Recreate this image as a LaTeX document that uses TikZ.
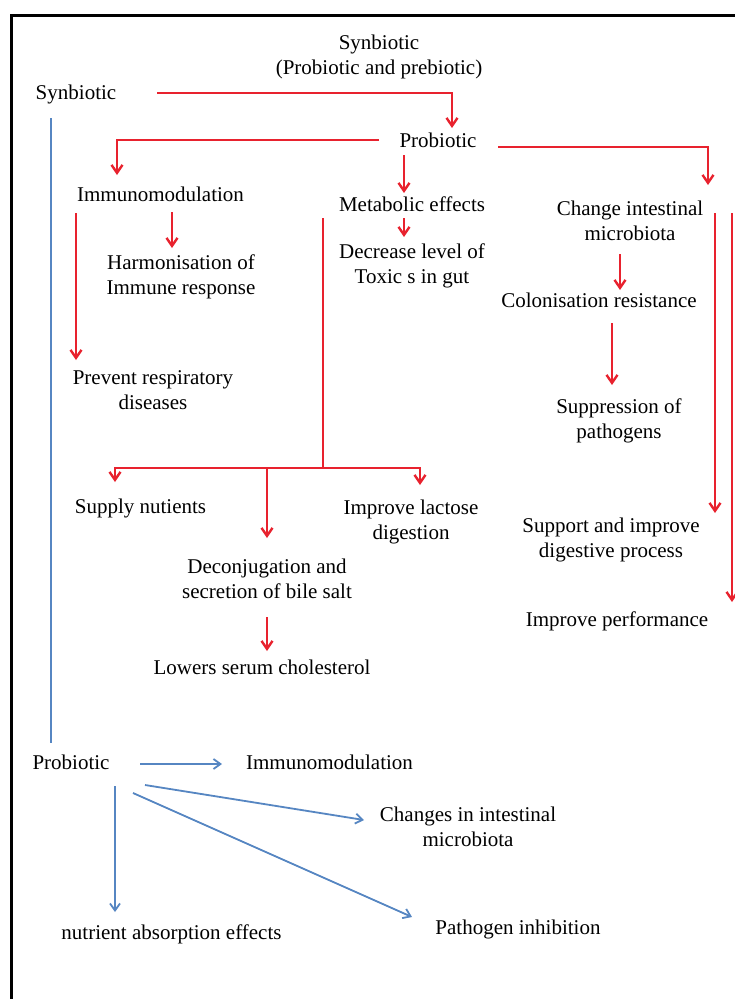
\documentclass[tikz,border=0pt]{standalone}
\usepackage{fontspec}
\setmainfont{Liberation Serif}
\usetikzlibrary{arrows.meta,calc}
\definecolor{rd}{RGB}{232,34,46}
\definecolor{bluec}{RGB}{86,134,194}
\begin{document}
\begin{tikzpicture}[x=1pt,y=1pt,
  lbl/.style={inner sep=1pt, font=\fontsize{21}{25}\selectfont, text height=14pt, text depth=4pt},
  lbltwo/.style={inner sep=1pt, font=\fontsize{21}{25}\selectfont, align=center},
  ra/.style={draw=rd, line width=2.4pt, -{Straight Barb[length=8pt,width=11pt]}},
  rline/.style={draw=rd, line width=2.4pt},
  ba/.style={draw=bluec, line width=1.8pt, -{Straight Barb[length=7pt,width=10pt]}},
  bline/.style={draw=bluec, line width=1.8pt}]
\useasboundingbox (0,0) rectangle (734,-999);
\fill[white] (0,0) rectangle (734,-999);
% frame
\draw[line width=3pt, line join=miter] (11,-1005) -- (11,-15) -- (740,-15);

% nodes
\node[lbltwo] (title) at (379,-56.5) {Synbiotic\\(Probiotic and prebiotic)};
\node[lbl] (syn) at (76,-94) {Synbiotic};
\node[lbl] (pro) at (438,-142) {Probiotic};
\node[lbl] (imm) at (160.5,-196) {Immunomodulation};
\node[lbl] (met) at (412,-206) {Metabolic effects};
\node[lbltwo] (chg) at (630,-220.5) {Change intestinal\\microbiota};
\node[lbltwo] (harm) at (181,-277) {Harmonisation of\\Immune response};
\node[lbltwo] (dec) at (412,-265.5) {Decrease level of\\Toxic s in gut};
\node[lbl] (col) at (599,-302) {Colonisation resistance};
\node[lbltwo] (prev) at (153,-390) {Prevent respiratory\\diseases};
\node[lbltwo] (sup) at (619,-421) {Suppression of\\pathogens};
\node[lbl] (nut) at (140.5,-508) {Supply nutients};
\node[lbltwo] (lac) at (411,-521.5) {Improve lactose\\digestion};
\node[lbltwo] (supp) at (611,-540) {Support and improve\\digestive process};
\node[lbltwo] (dcj) at (267,-578.5) {Deconjugation and\\secretion of bile salt};
\node[lbl] (perf) at (617,-621) {Improve performance};
\node[lbl] (low) at (262,-669) {Lowers serum cholesterol};
\node[lbl] (pro2) at (71,-764) {Probiotic};
\node[lbl] (imm2) at (329.5,-764) {Immunomodulation};
\node[lbltwo] (chg2) at (468,-827) {Changes in intestinal\\microbiota};
\node[lbl] (path) at (518,-929) {Pathogen inhibition};
\node[lbl] (abs) at (171.5,-934) {nutrient absorption effects};

% red connectors
\draw[ra] ($(syn)+(81,1)$) -| ($(pro)+(14,14)$);
\draw[ra] ($(pro)+(-59,2)$) -| ($(imm)+(-43.5,21)$);
\draw[ra] ($(pro)+(60,-5)$) -| ($(chg)+(78,35.5)$);
\draw[ra] ($(pro)+(-34,-13)$) -- ($(met)+(-8,13)$);
\draw[ra] ($(met)+(-8,-12)$) -- ($(dec)+(-8,28.5)$);
\coordinate (j) at (323,-468);
\draw[rline] ($(met)+(-89,-12)$) -- (j);
\draw[ra] (j) -| ($(nut)+(-25.5,26)$);
\draw[ra] (j) -| ($(lac)+(9,36.5)$);
\draw[ra] ($(dcj)+(0,110.5)$) -- ($(dcj)+(0,40.5)$);
\draw[ra] ($(dcj)+(0,-38.5)$) -- ($(low)+(5,18)$);
\draw[ra] ($(imm)+(11.5,-16)$) -- ($(harm)+(-9,29)$);
\draw[ra] ($(imm)+(-84.5,-17)$) -- ($(prev)+(-77,30)$);
\draw[ra] ($(chg)+(-10,-33.5)$) -- ($(col)+(21,12)$);
\draw[ra] ($(col)+(13,-21)$) -- ($(sup)+(-7,36)$);
\draw[ra] ($(chg)+(85,7.5)$) -- ($(supp)+(104,27)$);
\draw[ra] ($(chg)+(102,7.5)$) -- ($(perf)+(115,19)$);

% blue connectors
\draw[bline] ($(syn)+(-25,-24)$) -- ($(pro2)+(-20,21)$);
\draw[ba] ($(pro2)+(69,0)$) -- ($(imm2)+(-107.5,0)$);
\draw[ba] ($(pro2)+(74,-21)$) -- ($(chg2)+(-104,7)$);
\draw[ba] ($(pro2)+(62,-29)$) -- ($(path)+(-106,12)$);
\draw[ba] ($(pro2)+(44,-22)$) -- ($(abs)+(-56.5,22)$);
\end{tikzpicture}
\end{document}
